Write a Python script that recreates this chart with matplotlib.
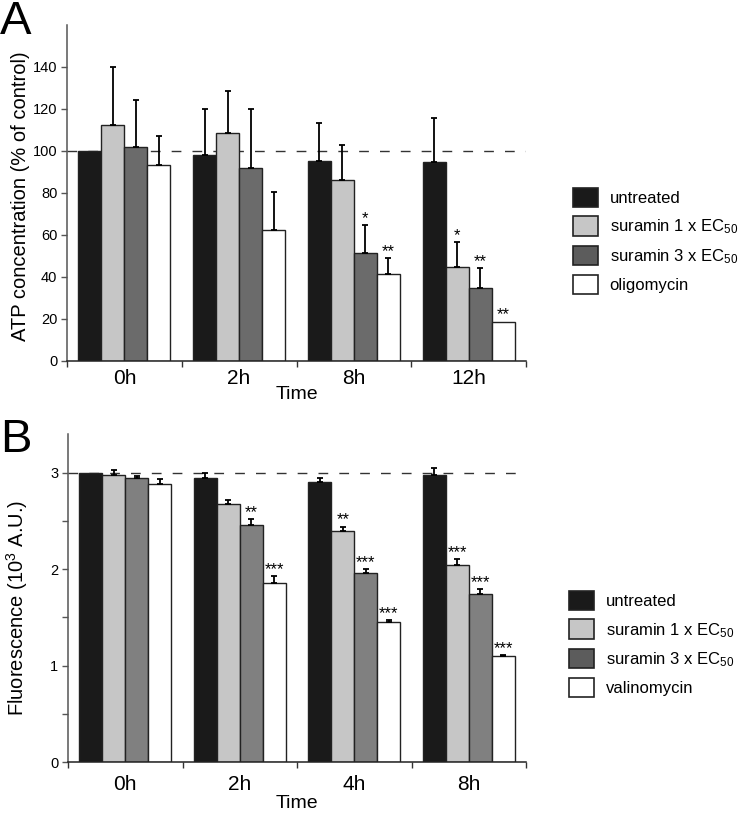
import numpy as np
import matplotlib
matplotlib.use("Agg")
import matplotlib.pyplot as plt
from matplotlib.patches import Patch

plt.rcParams['font.family'] = ['Liberation Sans', 'DejaVu Sans']
plt.rcParams['mathtext.fontset'] = 'custom'
plt.rcParams['mathtext.rm'] = 'Liberation Sans'
plt.rcParams['mathtext.it'] = 'Liberation Sans'
plt.rcParams['mathtext.default'] = 'rm'

# panel A: ATP concentration (% of control)
times_a = ['0h', '2h', '8h', '12h']
untreated_a = [100, 98, 95.4, 94.6]
untreated_a_err = [0, 22, 18, 21]
sur1_a = [112.5, 108.7, 86.2, 45]
sur1_a_err = [27.5, 20, 16.8, 11.5]
sur3_a = [102, 92, 51.4, 34.6]
sur3_a_err = [22.5, 28, 13.2, 9.8]
oligo_a = [93.3, 62.3, 41.6, 18.8]
oligo_a_err = [14, 18, 7.5, 0]
stars_a = {(2, 2): '*', (2, 3): '**', (3, 1): '*', (3, 2): '**', (3, 3): '**'}

# panel B: fluorescence (10^3 A.U.)
times_b = ['0h', '2h', '4h', '8h']
untreated_b = [3.0, 2.94, 2.90, 2.98]
untreated_b_err = [0, 0.06, 0.045, 0.07]
sur1_b = [2.97, 2.675, 2.395, 2.045]
sur1_b_err = [0.06, 0.04, 0.045, 0.055]
sur3_b = [2.94, 2.455, 1.955, 1.737]
sur3_b_err = [0.02, 0.065, 0.045, 0.058]
valino_b = [2.885, 1.86, 1.455, 1.10]
valino_b_err = [0.045, 0.07, 0.015, 0.008]
stars_b = {(1, 2): '**', (1, 3): '***', (2, 1): '**', (2, 2): '***', (2, 3): '***',
           (3, 1): '***', (3, 2): '***', (3, 3): '***'}

fig = plt.figure(figsize=(7.44, 8.15), dpi=100)


def draw_panel(ax, times, series, errs, colors, stars, ylim, yticks, minor, star_off):
    x = np.arange(len(times))
    w = 0.2
    for i, (vals, err, col) in enumerate(zip(series, errs, colors)):
        xs = x + (i - 1.5) * w
        ax.bar(xs, vals, w, color=col, edgecolor='#222222', linewidth=1.0, zorder=2)
        err = np.array(err)
        m = err > 0
        ax.errorbar(xs[m], np.array(vals)[m], yerr=[np.zeros(m.sum()), err[m]],
                    fmt='none', ecolor='black', elinewidth=1.3, capsize=2.2,
                    capthick=1.3, zorder=3)
    for (g, s), txt in stars.items():
        top = series[s][g] + errs[s][g]
        ax.annotate(txt, (g + (s - 1.5) * w, top), xytext=(0, star_off),
                    textcoords='offset points', ha='center', va='baseline',
                    fontsize=12, zorder=4)
    ax.set_xlim(-0.5, len(times) - 0.5)
    ax.set_ylim(*ylim)
    ax.set_yticks(yticks)
    if minor is not None:
        ax.set_yticks(minor, minor=True)
    ax.set_xticks(x)
    ax.set_xticklabels(times, fontsize=15)
    ax.set_xticks(np.arange(len(times) + 1) - 0.5, minor=True)
    ax.tick_params(axis='x', which='major', length=0, pad=6)
    ax.tick_params(axis='x', which='minor', length=4, width=1, direction='out', color='#333333')
    ax.tick_params(axis='y', which='both', length=4, width=1, direction='out',
                   color='#555555', labelsize=10.5, pad=3)
    for side in ['top', 'right']:
        ax.spines[side].set_visible(False)
    ax.spines['left'].set_color('#555555')
    ax.spines['left'].set_linewidth(1.1)
    ax.spines['bottom'].set_color('#222222')
    ax.spines['bottom'].set_linewidth(1.1)
    ax.set_xlabel('Time', fontsize=14)


ax_a = fig.add_axes([67 / 744, 1 - 361 / 815, (526 - 67) / 744, (361 - 25) / 815])
draw_panel(ax_a, times_a,
           [untreated_a, sur1_a, sur3_a, oligo_a],
           [untreated_a_err, sur1_a_err, sur3_a_err, oligo_a_err],
           ['#1a1a1a', '#c6c6c6', '#6b6b6b', 'white'],
           stars_a, (0, 160), np.arange(0, 141, 20), None, 1.5)
ax_a.axhline(100, color='#333333', linewidth=1.0, linestyle=(0, (7, 8)), zorder=1)
ax_a.set_ylabel('ATP concentration (% of control)', fontsize=14.5)
ax_a.yaxis.set_label_coords(-0.08, 0.49)
ax_a.xaxis.set_label_coords(0.5, -0.075)

ax_b = fig.add_axes([68 / 744, 1 - 762 / 815, (526 - 68) / 744, (762 - 434) / 815])
draw_panel(ax_b, times_b,
           [untreated_b, sur1_b, sur3_b, valino_b],
           [untreated_b_err, sur1_b_err, sur3_b_err, valino_b_err],
           ['#1a1a1a', '#c6c6c6', '#808080', 'white'],
           stars_b, (0, 3.4), [0, 1, 2, 3], [0.5, 1.5, 2.5], 1.5)
ax_b.axhline(3, color='#333333', linewidth=1.0, linestyle=(0, (7, 8)), zorder=1)
ax_b.set_ylabel('Fluorescence (10$^{3}$ A.U.)', fontsize=14.5)
ax_b.yaxis.set_label_coords(-0.082, 0.47)
ax_b.xaxis.set_label_coords(0.5, -0.1)
ax_b.tick_params(axis='x', which='major', pad=9)

fig.text(0.0, 1.0, 'A', fontsize=34, ha='left', va='top')
fig.text(0.0, 1 - 418 / 815, 'B', fontsize=34, ha='left', va='top')

leg_labels_a = ['untreated', 'suramin 1 x EC$_{50}$', 'suramin 3 x EC$_{50}$', 'oligomycin']
leg_labels_b = ['untreated', 'suramin 1 x EC$_{50}$', 'suramin 3 x EC$_{50}$', 'valinomycin']
leg_colors = ['#1a1a1a', '#c6c6c6', '#5c5c5c', 'white']


def add_legend(labels, anchor):
    handles = [Patch(facecolor=c, edgecolor='#222222', linewidth=1.2) for c in leg_colors]
    fig.legend(handles, labels, loc='center left', bbox_to_anchor=anchor,
               frameon=False, fontsize=12, handlelength=1.5, handleheight=1.44,
               handletextpad=0.7, labelspacing=0.54, borderpad=0, borderaxespad=0)


add_legend(leg_labels_a, (573 / 744, 1 - 241 / 815))
add_legend(leg_labels_b, (569 / 744, 1 - 644 / 815))

fig.savefig('out.png', dpi=100)
